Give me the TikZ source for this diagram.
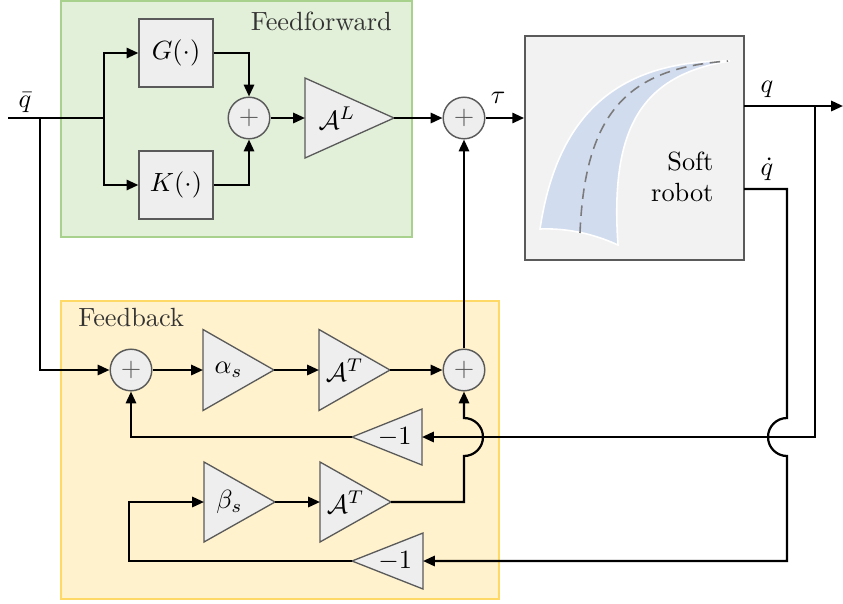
\documentclass[tikz,border=0pt]{standalone}
\usetikzlibrary{arrows.meta}

\definecolor{ffbg}{HTML}{E2F0D9}
\definecolor{ffline}{HTML}{A9D18E}
\definecolor{fbbg}{HTML}{FFF2CC}
\definecolor{fbline}{HTML}{FFD966}
\definecolor{blockfill}{HTML}{EEEEEE}
\definecolor{blockline}{HTML}{5A5A5A}
\definecolor{robotfill}{HTML}{F2F2F2}
\definecolor{bandfill}{HTML}{D2DCEF}

\tikzset{
  wire/.style={line width=0.85pt, line join=miter},
  conn/.style={wire, -{Triangle[length=4.5pt,width=3.9pt]}},
  sumnode/.style={circle, draw=blockline, fill=blockfill, line width=0.55pt,
    minimum size=15.8pt, inner sep=0pt, text=blockline},
  fnbox/.style={rectangle, draw=blockline, fill=blockfill, line width=0.5pt,
    minimum width=28.1pt, minimum height=25.8pt, inner sep=0pt},
  gaintri/.style={draw=blockline, fill=blockfill, line width=0.5pt},
  robotbox/.style={rectangle, draw=blockline, fill=robotfill, line width=0.7pt,
    minimum width=83.2pt, minimum height=85.1pt, inner sep=0pt},
  groupbox/.style={line width=0.6pt},
  sig/.style={inner sep=1pt},
}

% gain triangle pointing right: name, left x, centre y, width, height, label
\newcommand{\gainR}[6]{%
  \draw[gaintri] (#2,#3-#5/2) -- (#2+#4,#3) -- (#2,#3+#5/2) -- cycle;
  \coordinate (#1-in) at (#2,#3);
  \coordinate (#1-out) at (#2+#4,#3);
  \node (#1) at (#2+0.36*#4,#3) {#6};}
% gain triangle pointing left: name, right x, centre y, width, height, label
\newcommand{\gainL}[6]{%
  \draw[gaintri] (#2,#3-#5/2) -- (#2-#4,#3) -- (#2,#3+#5/2) -- cycle;
  \coordinate (#1-in) at (#2,#3);
  \coordinate (#1-out) at (#2-#4,#3);
  \node (#1) at (#2-0.39*#4,#3) {#6};}

\begin{document}
\begin{tikzpicture}[x=0.38pt,y=-0.38pt]
\useasboundingbox (0,0) rectangle (843,603);

% group backgrounds
\draw[groupbox, draw=ffline, fill=ffbg] (61,1) rectangle (412,237);
\draw[groupbox, draw=fbline, fill=fbbg] (61,301) rectangle (499,599);
\node[anchor=east, text=black!80] (fftitle) at (401,21) {Feedforward};
\node[anchor=west, text=black!80] (fbtitle) at (69,318) {Feedback};

% feedforward blocks
\node[fnbox] (G) at (176,53) {$G(\cdot)$};
\node[fnbox] (K) at (176,185) {$K(\cdot)$};
\node[sumnode] (s1) at (249,118) {$+$};
\gainR{aL}{305}{118}{89}{80}{$\mathcal{A}^L$}
\node[sumnode] (s2) at (464,118) {$+$};

% soft robot
\node[robotbox] (robot) at (634.5,148) {};
\fill[bandfill, draw=white, line width=0.6pt]
  (540,229) .. controls (557,115) and (617,60) .. (730,61)
  .. controls (640,75) and (610,130) .. (618,245)
  .. controls (592,233) and (565,228) .. (540,229) -- cycle;
\draw[blockline!80, dashed, line width=0.6pt, dash pattern=on 4pt off 2.5pt]
  (580,233) .. controls (585,110) and (630,68) .. (728,61);
\node[anchor=east, align=right, inner sep=0pt] (robotlabel) at (714,177) {Soft\\robot};

% feedback blocks
\node[sumnode] (s3) at (131,370) {$+$};
\gainR{al}{203}{370}{71}{81}{$\alpha_s$}
\gainR{aT1}{319}{370}{71}{81}{$\mathcal{A}^T$}
\node[sumnode] (s4) at (464,370) {$+$};
\gainL{m1a}{422}{437}{70}{56}{$-1$}
\gainR{be}{204}{502}{71}{80}{$\beta_s$}
\gainR{aT2}{320}{502}{71}{80}{$\mathcal{A}^T$}
\gainL{m1b}{423}{561}{71}{56}{$-1$}

% junction points
\coordinate (qin) at (8,118);
\coordinate (b1) at (40,118);
\coordinate (b2) at (104,118);
\coordinate (qs) at (744,106);
\coordinate (bq) at (815,106);
\coordinate (qend) at (843,106);
\coordinate (qds) at (744,189);

% feedforward path
\draw[wire] (qin) -- (b2);
\draw[conn] (b2) |- (G.west);
\draw[conn] (b2) |- (K.west);
\draw[conn] (G.east) -| (s1.north);
\draw[conn] (K.east) -| (s1.south);
\draw[conn] (s1.east) -- (aL-in);
\draw[conn] (aL-out) -- (s2.west);
\draw[conn] (s2.east) -- (s2.east -| robot.west);
\node[sig] (tau) at (498,98) {$\tau$};
\node[sig] (qbar) at (25,103) {$\bar q$};

% robot outputs
\draw[conn] (qs) -- (qend);
\node[sig] (qlab) at (767,89) {$q$};
\node[sig] (qdlab) at (767,169) {$\dot q$};
\draw[conn] (bq) |- (m1a-in);
\draw[conn] (qds) -| (787,418)
  .. controls (776.5,418) and (768,426.5) .. (768,437)
  .. controls (768,447.5) and (776.5,456) .. (787,456) |- (m1b-in);

% feedback path
\draw[conn] (b1) |- (s3.west);
\draw[conn] (s3.east) -- (al-in);
\draw[conn] (al-out) -- (aT1-in);
\draw[conn] (aT1-out) -- (s4.west);
\draw[conn] (s4.north) -- (s2.south);
\draw[conn] (m1a-out) -| (s3.south);
\draw[conn] (m1b-out) -| (129,530) |- (be-in);
\draw[conn] (be-out) -- (aT2-in);
\draw[conn] (aT2-out) -| (464,456)
  .. controls (474.5,456) and (483,447.5) .. (483,437)
  .. controls (483,426.5) and (474.5,418) .. (464,418) -- (s4.south);
\end{tikzpicture}
\end{document}
